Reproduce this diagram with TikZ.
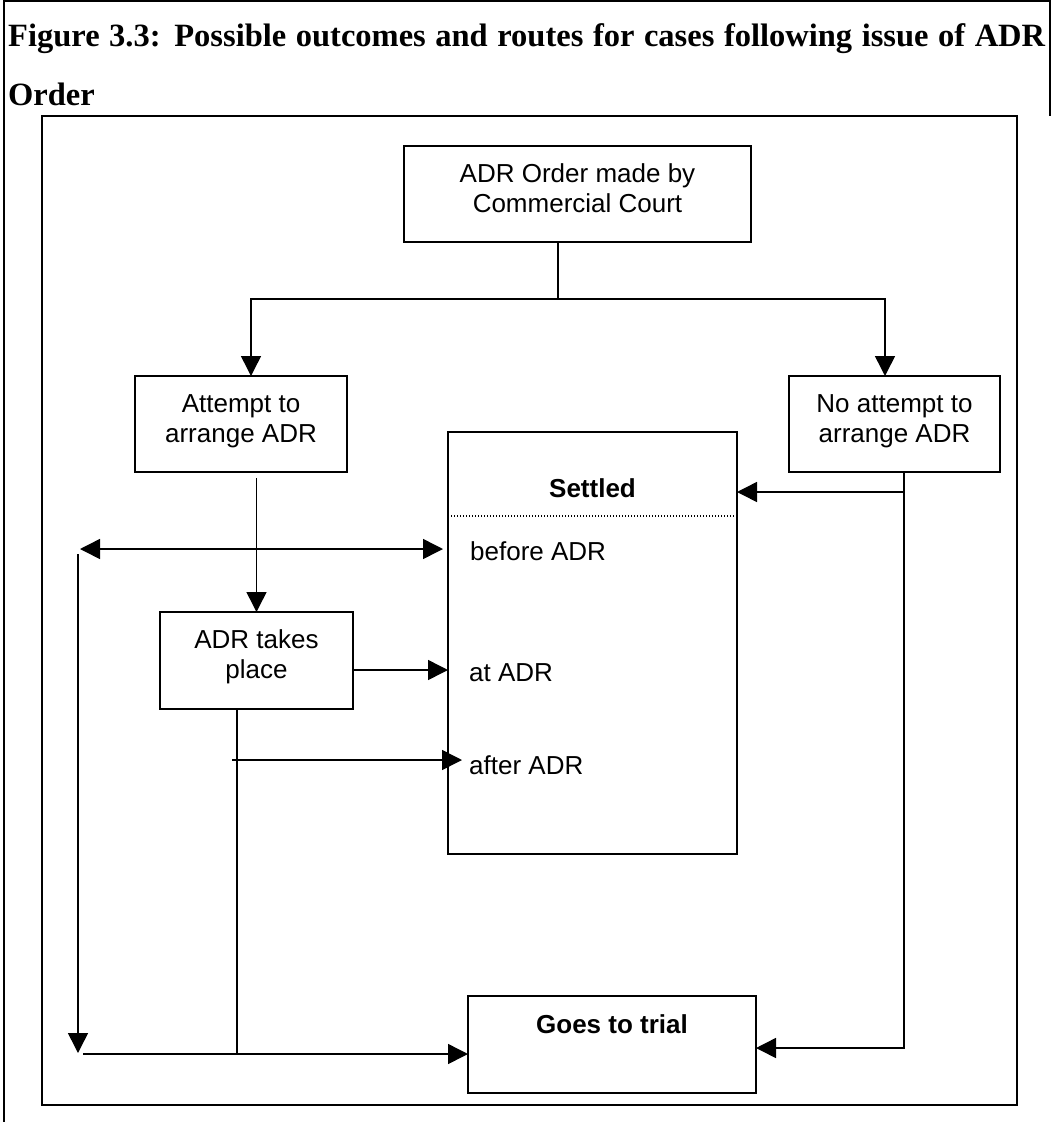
\documentclass[tikz,border=0pt]{standalone}
\usepackage{fontspec}
\setmainfont{Liberation Sans}
\newfontfamily\titlefont{Liberation Serif}
\usetikzlibrary{arrows.meta}
\newcommand\bxt[4]{\parbox[c][#2pt][t]{#1pt}{\centering\rule{0pt}{#3pt}#4}}
\begin{document}
\begin{tikzpicture}[x=1pt,y=-1pt,
  every node/.style={font=\fontsize{26}{30}\selectfont},
  box/.style={draw, line width=2pt, inner sep=0pt, outer sep=0pt},
  conn/.style={line width=1.5pt},
  arr/.style={conn, -{Triangle[length=20pt,width=20pt]}},
  darr/.style={conn, {Triangle[length=20pt,width=20pt]}-{Triangle[length=20pt,width=20pt]}},
  lbl/.style={anchor=west, inner sep=0pt},
  frameline/.style={line width=2.2pt},
  dotline/.style={line width=1.2pt, dash pattern=on 1pt off 2pt},
  ttl/.style={anchor=base west, inner sep=0pt, font=\titlefont\bfseries\fontsize{32.5}{36}\selectfont}]
\useasboundingbox (0,0) rectangle (1055,1122);

% outer cell lines
\draw[line width=2pt] (4,1122) -- (4,1) -- (1050,1) -- (1050,116);
% inner frame
\draw[frameline] (42,116) rectangle (1017,1105);

% title
\node[ttl] (t1) at (8,46) {\makebox[1037pt][s]{Figure 3.3: Possible outcomes and routes for cases following issue of ADR}};
\node[ttl] (t2) at (8,105) {Order};

% boxes
\node[box] (order) at (577.5,194) {\bxt{347}{96}{36}{ADR Order made by\\Commercial Court}};
\node[box] (attempt) at (241,424) {\bxt{212}{96}{36}{Attempt to\\arrange ADR}};
\node[box] (noatt) at (894.5,424) {\bxt{211}{96}{36}{No attempt to\\arrange ADR}};
\node[box] (takes) at (256.5,660.5) {\bxt{193}{97}{36}{ADR takes\\place}};
\node[box] (settled) at (592.5,643) {\bxt{289}{422}{65.5}{\textbf{Settled}}};
\node[box] (goes) at (612,1044.5) {\bxt{288}{97}{37.5}{\textbf{Goes to trial}}};

% labels inside Settled
\node[lbl] (before) at (470,551) {before ADR};
\node[lbl] (atadr) at (469,673) {at ADR};
\node[lbl] (after) at (469,765) {after ADR};
\draw[dotline] (451,516) -- (735,516);

% coordinates
\coordinate (j) at (558,299);
\coordinate (a0) at (256.5,478);
\coordinate (L1) at (80,549);
\coordinate (R1) at (443,549);
\coordinate (v0) at (78,554);
\coordinate (v1) at (78,1053);
\coordinate (b0) at (83,1054);
\coordinate (t0) at (237,709);
\coordinate (t1c) at (237,1054);
\coordinate (f0) at (232,760);
\coordinate (f1) at (462,760);
\coordinate (s0) at (353,670);
\coordinate (s1) at (448,670);
\coordinate (n0) at (904,472);
\coordinate (n2) at (904,492);

% connectors
\draw[conn] (order.south -| j) -- (j);
\draw[arr] (j) -| ([xshift=10pt]attempt.north);
\draw[arr] (j) -| ([xshift=-9.5pt]noatt.north);
\draw[arr] (a0) -- (takes.north);
\draw[darr] (L1) -- (R1);
\draw[arr] (v0) -- (v1);
\draw[arr] (b0) -- ([yshift=-9.5pt]goes.west);
\draw[conn] (t0) -- (t1c);
\draw[arr] (f0) -- (f1);
\draw[arr] (s0) -- (s1);
\draw[arr] (n0) |- ([yshift=-3.5pt]goes.east);
\draw[arr] (n2) -- (n2 -| settled.east);
\end{tikzpicture}
\end{document}
